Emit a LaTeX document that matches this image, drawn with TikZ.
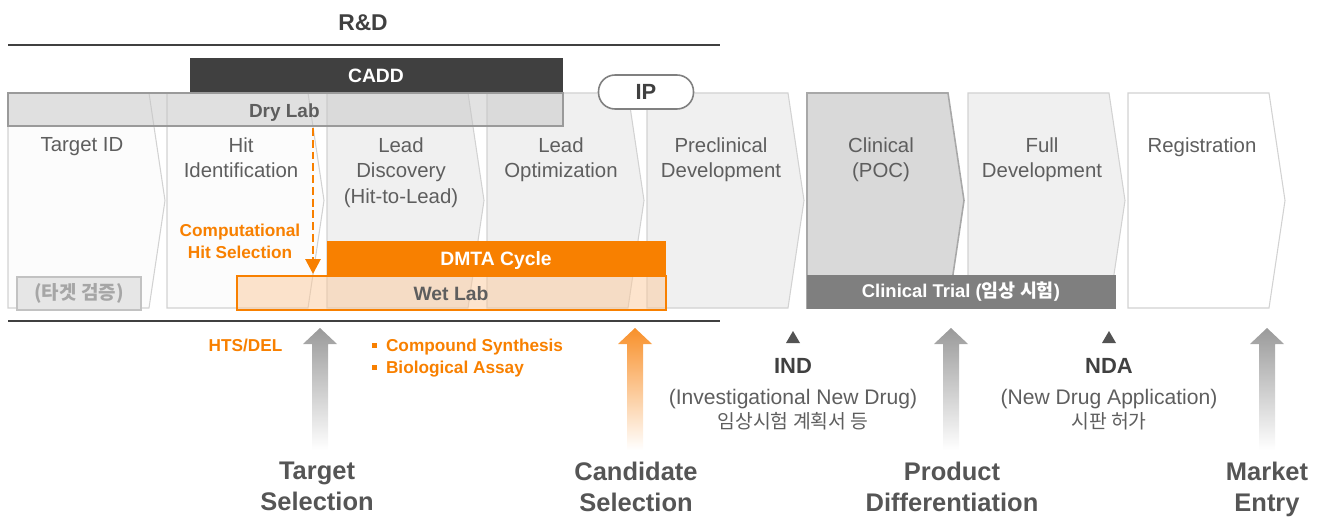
\documentclass[tikz,border=0pt]{standalone}
\usepackage{fontspec}
\setmainfont{Liberation Sans}
\newfontfamily\kr{Noto Sans CJK KR}
\usepackage{tikz}
\usetikzlibrary{arrows.meta}

\definecolor{ink}{HTML}{5E5E5E}
\definecolor{darkink}{HTML}{404040}
\definecolor{darkbar}{HTML}{404040}
\definecolor{orng}{RGB}{248,128,0}
\definecolor{stageline}{HTML}{D2D2D2}
\definecolor{stagefill}{HTML}{F0F0F0}
\definecolor{pocfill}{HTML}{D9D9D9}
\definecolor{pocline}{HTML}{A8A8A8}
\definecolor{trialbar}{HTML}{7F7F7F}
\definecolor{drygray}{HTML}{C6C6C6}
\definecolor{dryline}{HTML}{9A9A9A}
\definecolor{wetfill}{HTML}{FBC99B}
\definecolor{kbox}{HTML}{E6E6E6}
\definecolor{kboxline}{HTML}{C2C2C2}
\definecolor{ktext}{HTML}{A6A6A6}
\definecolor{arrowgray}{HTML}{9A9A9A}
\definecolor{arroworng}{HTML}{F8902A}

\begin{document}
\begin{tikzpicture}[x=0.02cm, y=-0.02cm,
		stage/.style={draw=stageline, line width=0.6pt},
		poc/.style={draw=pocline, fill=pocfill, line width=0.9pt},
		stagetext/.style={text=ink, font=\fontsize{11.6}{14.5}\selectfont, align=center, anchor=north, inner sep=0pt},
		milestone/.style={text=ink!90!black, font=\bfseries\fontsize{14.5}{17.9}\selectfont, align=center, anchor=north, inner sep=0pt},
		bartext/.style={font=\bfseries\fontsize{11}{13}\selectfont, inner sep=0pt, anchor=base},
		orngnote/.style={text=orng, font=\bfseries\fontsize{9.8}{12.5}\selectfont, inner sep=0pt},
		rdline/.style={draw=darkbar, line width=1.7pt}]
		\useasboundingbox (0,0) rectangle (1325,517);
%		\draw[help lines] (0,0) grid[step=50] (1325,517);
		\path (8,93) coordinate (tid);
		\path (167,93) coordinate (hid);
		\path (327,93) coordinate (ldis);
		\path (487,93) coordinate (lopt);
		\path (647,93) coordinate (prec);
		\path (807,93) coordinate (poc);
		\path (968,93) coordinate (fdev);
		\path (1128,93) coordinate (reg);
		\path (313,128) coordinate (dry_bottom);
		\path (313,274) coordinate (wet_top);
		\path (320,328) coordinate (ts_tip);
		\path (635,328) coordinate (cs_tip);
		\path (951,328) coordinate (pd_tip);
		\path (1267,328) coordinate (me_tip);
		\path (793,331) coordinate (ind_mark);
		\path (1109,331) coordinate (nda_mark);

		% stage chevrons
		\draw[stage,fill=white!99!black] (tid) -- ++(141,0) -- ++(16,107.5) -- ++(-16,107.5) -- ++(-141,0) -- cycle;
		\draw[stage,fill=white!99!black] (hid) -- ++(141,0) -- ++(16,107.5) -- ++(-16,107.5) -- ++(-141,0) -- cycle;
		\draw[stage,fill=stagefill] (ldis) -- ++(141,0) -- ++(16,107.5) -- ++(-16,107.5) -- ++(-141,0) -- cycle;
		\draw[stage,fill=stagefill] (lopt) -- ++(141,0) -- ++(16,107.5) -- ++(-16,107.5) -- ++(-141,0) -- cycle;
		\draw[stage,fill=stagefill] (prec) -- ++(141,0) -- ++(16,107.5) -- ++(-16,107.5) -- ++(-141,0) -- cycle;
		\draw[poc] (poc) -- ++(141,0) -- ++(16,107.5) -- ++(-16,107.5) -- ++(-141,0) -- cycle;
		\draw[stage,fill=stagefill] (fdev) -- ++(141,0) -- ++(16,107.5) -- ++(-16,107.5) -- ++(-141,0) -- cycle;
		\draw[stage,fill=white] (reg) -- ++(141,0) -- ++(16,107.5) -- ++(-16,107.5) -- ++(-141,0) -- cycle;

		\path (82,137) node(tid_txt) [stagetext] {Target ID};
		\path (241,137) node(hid_txt) [stagetext] {Hit\\Identification};
		\path (401,137) node(ldis_txt) [stagetext] {Lead\\Discovery\\(Hit-to-Lead)};
		\path (561,137) node(lopt_txt) [stagetext] {Lead\\Optimization};
		\path (721,137) node(prec_txt) [stagetext] {Preclinical\\Development};
		\path (881,137) node(poc_txt) [stagetext] {Clinical\\(POC)};
		\path (1042,137) node(fdev_txt) [stagetext] {Full\\Development};
		\path (1202,137) node(reg_txt) [stagetext] {Registration};

		% R&D band
		\path (363,31) node(rnd) [bartext,text=darkink,font=\bfseries\fontsize{13}{15}\selectfont] {R\&D};
		\draw[rdline] (8,45) -- (720,45);
		\draw[rdline] (8,321) -- (720,321);

		\fill[darkbar] (190,58) rectangle (563,93);
		\path (376,83) node(cadd) [bartext,text=white] {CADD};
		\draw[fill=drygray,fill opacity=0.5,draw=dryline,line width=1.1pt] (8,93) rectangle (563,126);
		\path (320,117) node(drylab) [bartext,anchor=base east,text=ink,font=\bfseries\fontsize{10.8}{13}\selectfont] {Dry Lab};

		\path (646,92) node(ip) [draw=gray,line width=0.9pt,fill=white,rounded corners=0.33cm,
			minimum width=1.9cm,minimum height=0.68cm,text=darkink,font=\bfseries\fontsize{12.5}{15}\selectfont] {IP};

		\draw[fill=kbox,draw=kboxline,line width=1.1pt] (17,277) rectangle (141,310);
		\path (79,293.5) node(tgt_check) [text=ktext,font=\kr\bfseries\fontsize{10.8}{12}\selectfont,inner sep=0pt] {(타겟 검증)};

		% wet lab and DMTA cycle
		\draw[fill=wetfill,fill opacity=0.5,draw=orng,line width=1.1pt] (237,276) rectangle (666,310);
		\fill[orng] (327,241) rectangle (666,276);
		\path (496,265.5) node(dmta) [bartext,text=white] {DMTA Cycle};
		\path (451,300) node(wetlab) [bartext,text=ink] {Wet Lab};

		\path (240,236) node(comp_sel) [orngnote,anchor=base] {Computational};
		\path (240,258) node(comp_sel2) [orngnote,anchor=base] {Hit Selection};
		\draw[orng,line width=1.6pt,dash pattern=on 4.5pt off 2.2pt,-{Triangle[length=8.5pt,width=8.5pt]}] (dry_bottom) -- (wet_top);

		\fill[trialbar] (807,275) rectangle (1116,309);
		\path (961,292) node(trial) [text=white,font=\bfseries\fontsize{10.5}{12}\selectfont,inner sep=0pt] {Clinical Trial ({\kr 임상 시험})};

		% decision arrows
		\shade[top color=arrowgray,bottom color=white] (ts_tip) -- ++(17,16) -- ++(-9,0) -- ++(0,106) -- ++(-16,0) -- ++(0,-106) -- ++(-9,0) -- cycle;
		\shade[top color=arroworng,bottom color=white] (cs_tip) -- ++(17,16) -- ++(-9,0) -- ++(0,106) -- ++(-16,0) -- ++(0,-106) -- ++(-9,0) -- cycle;
		\shade[top color=arrowgray,bottom color=white] (pd_tip) -- ++(17,16) -- ++(-9,0) -- ++(0,106) -- ++(-16,0) -- ++(0,-106) -- ++(-9,0) -- cycle;
		\shade[top color=arrowgray,bottom color=white] (me_tip) -- ++(17,16) -- ++(-9,0) -- ++(0,106) -- ++(-16,0) -- ++(0,-106) -- ++(-9,0) -- cycle;

		\path (245.5,351.5) node(hts) [orngnote,anchor=base] {HTS/DEL};
		\path (372,351.5) node(synth) [orngnote,anchor=base west] {\rule[2pt]{2.8pt}{2.8pt}\hspace{5pt}Compound Synthesis};
		\path (372,373.5) node(assay) [orngnote,anchor=base west] {\rule[2pt]{2.8pt}{2.8pt}\hspace{5pt}Biological Assay};

		% regulatory filings
		\fill[darkink!90!white] (ind_mark) -- ++(7,12) -- ++(-14,0) -- cycle;
		\path (793,373) node(ind) [bartext,text=darkink,font=\bfseries\fontsize{12.5}{15}\selectfont] {IND};
		\path (793,404.5) node(ind_en) [anchor=base,inner sep=0pt,text=ink,font=\fontsize{12}{14}\selectfont] {(Investigational New Drug)};
		\path (793,428.5) node(ind_kr) [anchor=base,inner sep=0pt,text=ink,font=\kr\fontsize{11}{12}\selectfont] {임상시험 계획서 등};
		\fill[darkink!90!white] (nda_mark) -- ++(7,12) -- ++(-14,0) -- cycle;
		\path (1109,373) node(nda) [bartext,text=darkink,font=\bfseries\fontsize{12.5}{15}\selectfont] {NDA};
		\path (1109,404.5) node(nda_en) [anchor=base,inner sep=0pt,text=ink,font=\fontsize{12}{14}\selectfont] {(New Drug Application)};
		\path (1109,428.5) node(nda_kr) [anchor=base,inner sep=0pt,text=ink,font=\kr\fontsize{11}{12}\selectfont] {시판 허가};

		% milestones
		\path (317,461.5) node(ts) [milestone] {Target\\Selection};
		\path (636,461.5) node(cs) [milestone] {Candidate\\Selection};
		\path (952,461.5) node(pd) [milestone] {Product\\Differentiation};
		\path (1267,461.5) node(me) [milestone] {Market\\Entry};
	\end{tikzpicture}
\end{document}
